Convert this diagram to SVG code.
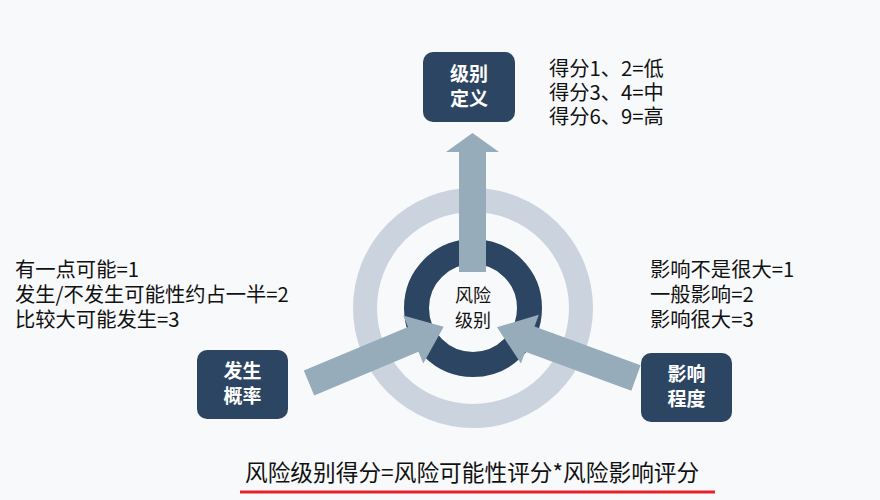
<svg xmlns="http://www.w3.org/2000/svg" width="880" height="500" viewBox="0 0 880 500">
<style>
text{font-family:"Noto Sans CJK SC","Noto Sans",sans-serif;}
.box{fill:#2c4562;}
.nt{fill:#ffffff;font-size:19px;font-weight:bold;text-anchor:middle;}
.ann{fill:#111111;font-size:20.3px;}
.arr{fill:#97acbb;}
</style>
<rect width="880" height="500" fill="#f8f9fb"/>
<g id="rings">
<circle cx="473" cy="308" r="108" fill="none" stroke="#cbd3df" stroke-width="24"/>
<circle cx="473" cy="308" r="56.5" fill="none" stroke="#2c4562" stroke-width="25"/>
</g>
<g id="connectors">
<polygon class="arr" points="459,272 486,272 486,152 499,152 472.5,133 446,152 459,152"/>
<polygon class="arr" transform="translate(309,383) rotate(-22.7)" points="0,-13.5 113,-13.5 113,-26 146,0 113,26 113,13.5 0,13.5"/>
<polygon class="arr" transform="translate(636,378) rotate(200.1)" points="0,-13.5 113,-13.5 113,-26 148,0 113,26 113,13.5 0,13.5"/>
</g>
<g id="center">
<text x="473" y="302" font-size="18" fill="#111" text-anchor="middle">风险</text>
<text x="473" y="327" font-size="18" fill="#111" text-anchor="middle">级别</text>
</g>
<g id="node-level">
<rect class="box" x="423" y="52" width="92" height="70" rx="10"/>
<text class="nt" x="469" y="81">级别</text>
<text class="nt" x="469" y="106">定义</text>
</g>
<g id="node-prob">
<rect class="box" x="197" y="350" width="91" height="69" rx="10"/>
<text class="nt" x="242.5" y="378">发生</text>
<text class="nt" x="242.5" y="403">概率</text>
</g>
<g id="node-impact">
<rect class="box" x="641" y="353" width="91" height="69" rx="10"/>
<text class="nt" x="686.5" y="381">影响</text>
<text class="nt" x="686.5" y="406">程度</text>
</g>
<g id="ann-level">
<text class="ann" x="549" y="76">得分1、2=低</text>
<text class="ann" x="549" y="100">得分3、4=中</text>
<text class="ann" x="549" y="124">得分6、9=高</text>
</g>
<g id="ann-prob">
<text class="ann" x="15" y="277">有一点可能=1</text>
<text class="ann" x="15" y="302">发生/不发生可能性约占一半=2</text>
<text class="ann" x="15" y="327">比较大可能发生=3</text>
</g>
<g id="ann-impact">
<text class="ann" x="650" y="277">影响不是很大=1</text>
<text class="ann" x="650" y="302">一般影响=2</text>
<text class="ann" x="650" y="327">影响很大=3</text>
</g>
<g id="formula">
<text x="245" y="481" font-size="22.7" fill="#111">风险级别得分=风险可能性评分*风险影响评分</text>
<line x1="240" y1="492" x2="715" y2="492" stroke="#e8202a" stroke-width="3"/>
</g>
</svg>
